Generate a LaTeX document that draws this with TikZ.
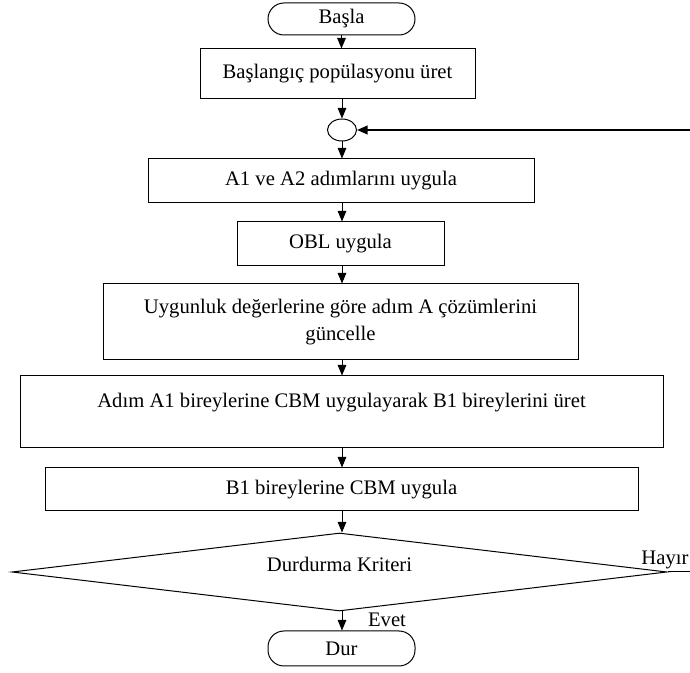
\documentclass[tikz,border=0pt]{standalone}
\usepackage{fontspec}
\setmainfont{Liberation Serif}
\usetikzlibrary{arrows.meta,shapes.geometric}

\tikzset{every picture/.style={line width=0.75pt}}
\tikzset{
  process/.style={draw, rectangle, inner sep=0pt, align=center},
  terminal/.style={draw, rectangle, rounded corners=12pt, inner sep=0pt, minimum width=110.25pt},
  decision/.style={draw, diamond, aspect=8.4, inner sep=0pt},
  arr/.style={-{Triangle[length=8pt,width=6.5pt]}}
}

\begin{document}
\begin{tikzpicture}[x=0.75pt,y=0.75pt,yscale=-1,xscale=1,font=\fontsize{15.5}{20}\selectfont]
	\useasboundingbox (0,0) rectangle (690,673);

	%Shape: Terminal [id:start]
	\node[terminal, minimum height=24pt] (start) at (341.5,19) {Başla};
	%Shape: Rectangle [id:init]
	\node[process, minimum width=206.25pt, minimum height=37.5pt] (init) at (337.5,74) {Başlangıç popülasyonu üret};
	%Shape: Ellipse [id:merge]
	\node[draw, ellipse, inner sep=0pt, minimum width=21.75pt, minimum height=16.5pt] (merge) at (342,130) {};
	%Shape: Rectangle [id:a12]
	\node[process, minimum width=289.5pt, minimum height=33pt] (a12) at (341,181) {A1 ve A2 adımlarını uygula};
	%Shape: Rectangle [id:obl]
	\node[process, minimum width=155.25pt, minimum height=33pt] (obl) at (340.5,244) {OBL uygula};
	%Shape: Rectangle [id:upd]
	\node[process, minimum width=356.25pt, minimum height=57pt] (upd) at (340.5,322) {Uygunluk değerlerine göre adım A çözümlerini\\ güncelle};
	%Shape: Rectangle [id:cbm1]
	\node[process, minimum width=482.25pt, minimum height=54pt, text depth=17pt] (cbm1) at (341.5,412) {Adım A1 bireylerine CBM uygulayarak B1 bireylerini üret};
	%Shape: Rectangle [id:cbm2]
	\node[process, minimum width=444.75pt, minimum height=32.25pt] (cbm2) at (341.5,489.5) {B1 bireylerine CBM uygula};
	%Shape: Diamond [id:stop]
	\node[decision, minimum width=491.25pt, minimum height=58.5pt, text depth=11pt] (stop) at (339.5,572) {Durdurma Kriteri};
	%Shape: Terminal [id:dur]
	\node[terminal, minimum height=26.25pt] (dur) at (341.5,648.5) {Dur};

	\coordinate (loopin) at (690,130);
	\coordinate (loopout) at (690,572);

	%Straight Lines
	\draw[arr] (start.south) -- (start.south |- init.north);
	\draw[arr] (merge |- init.south) -- (merge.north);
	\draw[arr] (merge.south) -- (merge |- a12.north);
	\draw[arr] (merge |- a12.south) -- (merge |- obl.north);
	\draw[arr] (merge |- obl.south) -- (merge |- upd.north);
	\draw[arr] (merge |- upd.south) -- (merge |- cbm1.north);
	\draw[arr] (merge |- cbm1.south) -- (merge |- cbm2.north);
	\draw[arr] (merge |- cbm2.south) -- (merge |- stop.north);
	\draw[arr] (merge |- stop.south) -- (merge |- dur.north);
	%Loop back
	\draw[arr, line width=1.5pt] (loopin) -- (merge.east);
	\draw (stop.east) -- (loopout);

	% Text Node
	\node[anchor=east, inner sep=0pt] (hayir) at (689,560) {Hayır};
	% Text Node
	\node (evet) at (387,620) {Evet};

\end{tikzpicture}
\end{document}
